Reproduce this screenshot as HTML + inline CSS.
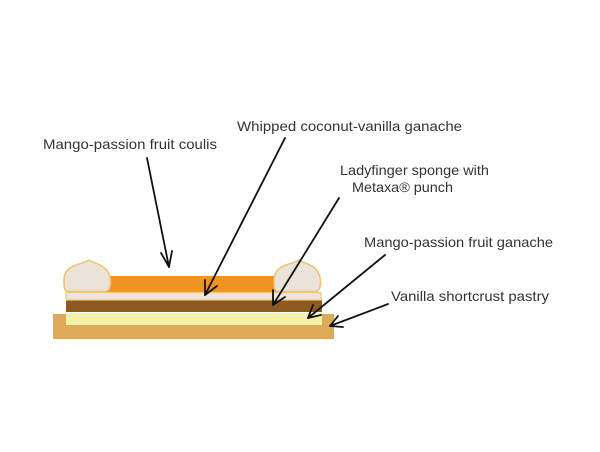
<!DOCTYPE html>
<html>
<head>
<meta charset="utf-8">
<style>
  html,body{margin:0;padding:0;background:#fff;}
  svg{display:block;}
  text{font-family:"Liberation Sans",sans-serif;font-size:14px;fill:#333;}
</style>
</head>
<body>
<svg width="600" height="452" viewBox="0 0 600 452" xmlns="http://www.w3.org/2000/svg">
  <rect width="600" height="452" fill="#fff"/>

  <!-- pastry base -->
  <rect x="53" y="314" width="281" height="25" fill="#DFAA57"/>
  <!-- yellow ganache -->
  <rect x="66" y="313" width="256" height="12" fill="#F4F1A8"/>
  <!-- brown sponge -->
  <rect x="66" y="300" width="256" height="12" fill="#8C5A1F"/>
  <!-- orange coulis -->
  <rect x="106" y="276" width="172" height="17" fill="#EF9420"/>
  <!-- cream layer -->
  <rect x="66" y="292.5" width="255" height="7.5" fill="#EDE5DC" stroke="#F5C57A" stroke-width="1.2"/>
  <!-- domes -->
  <path d="M68,291.5 C64,291 64,287 64,280 C64,273 68,268 76,265 C82,263 86,262 89,260 C92,262 96,263 102,266 C108,270 111,276 110.5,284 C110,289 108,291.5 105,291.5 Z" fill="#EAE3DA" stroke="#F4BF6E" stroke-width="1.5"/>
  <path d="M278,291.5 C274,291 274,287 274,280 C274,273 278,268 286,265 C292,263 296,262 299,260 C302,262 306,263 312,266 C318,270 321,276 320.5,284 C320,289 318,291.5 315,291.5 Z" fill="#EAE3DA" stroke="#F4BF6E" stroke-width="1.5"/>

  <!-- arrows -->
  <g stroke="#111" stroke-width="1.8" fill="none" stroke-linecap="round" stroke-linejoin="round">
    <line x1="147" y1="158" x2="169" y2="267"/>
    <polyline points="161,253 169,267 172,251"/>

    <line x1="285" y1="138" x2="205" y2="295"/>
    <polyline points="205,280 205,295 217,286"/>

    <line x1="339" y1="198" x2="273" y2="305"/>
    <polyline points="273,290 273,305 285,297"/>

    <line x1="385" y1="255" x2="308" y2="318"/>
    <polyline points="313,305 308,318 321,315"/>

    <line x1="388" y1="304" x2="330" y2="326"/>
    <polyline points="338,316 330,326 343,327"/>
  </g>

  <!-- labels -->
  <text x="43" y="149" textLength="174" lengthAdjust="spacingAndGlyphs">Mango-passion fruit coulis</text>
  <text x="237" y="131" textLength="225" lengthAdjust="spacingAndGlyphs">Whipped coconut-vanilla ganache</text>
  <text x="340" y="175" textLength="149" lengthAdjust="spacingAndGlyphs">Ladyfinger sponge with</text>
  <text x="352" y="192" textLength="101" lengthAdjust="spacingAndGlyphs">Metaxa® punch</text>
  <text x="364" y="247" textLength="189" lengthAdjust="spacingAndGlyphs">Mango-passion fruit ganache</text>
  <text x="391" y="301" textLength="158" lengthAdjust="spacingAndGlyphs">Vanilla shortcrust pastry</text>
</svg>
</body>
</html>
